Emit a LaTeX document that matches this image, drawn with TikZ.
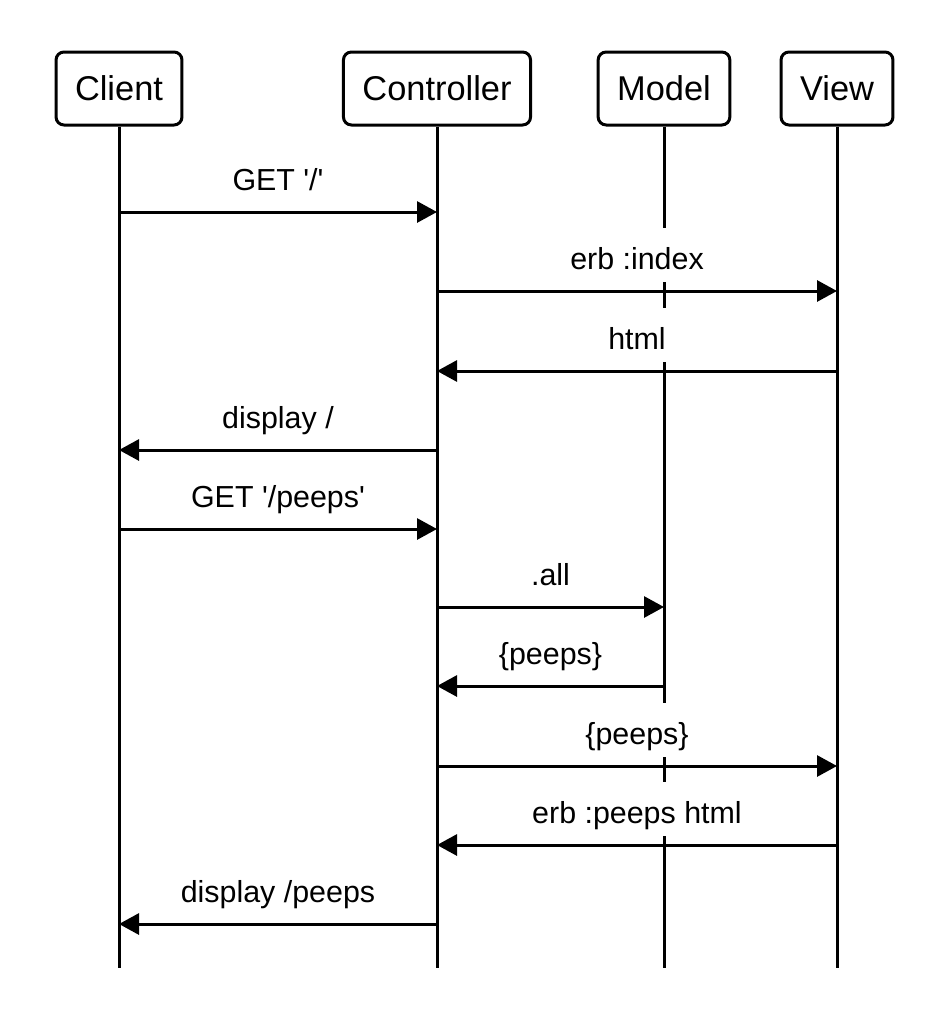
\documentclass[tikz,border=0pt]{standalone}
\usepackage{fontspec}
\setmainfont{Liberation Sans}
\usetikzlibrary{arrows.meta}
\tikzset{
  actor/.style={draw, line width=1.5pt, rounded corners=4pt, minimum height=36.5pt,
    inner xsep=9.5pt, font=\fontsize{17.2}{20}\selectfont},
  vida/.style={line width=1.5pt},
  msg/.style={line width=1.5pt, -{Triangle[length=10pt,width=10.5pt]}},
  etiqueta/.style={fill=white, inner ysep=0pt, inner xsep=3pt, outer sep=0pt,
    text height=20.5pt, text depth=6.5pt, anchor=base, yshift=11pt,
    font=\fontsize{15.2}{18}\selectfont}
}
\begin{document}
\begin{tikzpicture}[x=0.5pt,y=-0.5pt]
    \useasboundingbox (0,0) rectangle (950,1012);
    % actores
    \node[actor] (client) at (119,88.5) {Client};
    \node[actor] (ctrl) at (437,88.5) {Controller};
    \node[actor] (model) at (664,88.5) {Model};
    \node[actor] (view) at (837,88.5) {View};
    % lineas de vida
    \foreach \a in {client,ctrl,model,view}{
    \coordinate (\a-fin) at (\a |- 0,968);
    \draw[vida] (\a.south) -- (\a-fin);
    }
    % pagina /
    \draw[msg] (client |- 0,212) -- node[etiqueta] {GET \textquotesingle/\textquotesingle} (ctrl |- 0,212);
    \draw[msg] (ctrl |- 0,291) -- node[etiqueta] {erb :index} (view |- 0,291);
    \draw[msg] (view |- 0,371) -- node[etiqueta] {html} (ctrl |- 0,371);
    \draw[msg] (ctrl |- 0,450) -- node[etiqueta] {display /} (client |- 0,450);
    % pagina /peeps
    \draw[msg] (client |- 0,529) -- node[etiqueta] {GET \textquotesingle/peeps\textquotesingle} (ctrl |- 0,529);
    \draw[msg] (ctrl |- 0,607) -- node[etiqueta] {.all} (model |- 0,607);
    \draw[msg] (model |- 0,686) -- node[etiqueta] {\{peeps\}} (ctrl |- 0,686);
    \draw[msg] (ctrl |- 0,766) -- node[etiqueta] {\{peeps\}} (view |- 0,766);
    \draw[msg] (view |- 0,845) -- node[etiqueta] {erb :peeps html} (ctrl |- 0,845);
    \draw[msg] (ctrl |- 0,924) -- node[etiqueta] {display /peeps} (client |- 0,924);
\end{tikzpicture}
\end{document}
